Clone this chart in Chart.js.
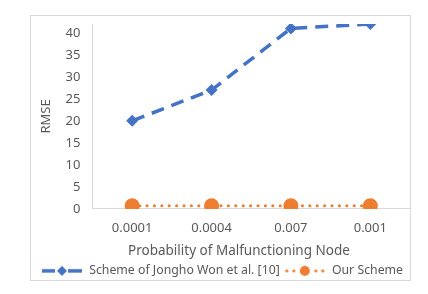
<!DOCTYPE html>
<html>
<head>
<meta charset="utf-8">
<script src="https://cdn.jsdelivr.net/npm/chart.js@4.4.1/dist/chart.umd.min.js"></script>
<style>
  body { margin: 0; background: #fff; }
  #wrap { position: relative; width: 428px; height: 294px; }
  #frame { position: absolute; left: 30px; top: 15px; width: 379px; height: 264px; border: 1px solid #d9d9d9; }
  canvas { position: absolute; left: 0; top: 0; }
</style>
</head>
<body>
<div id="wrap">
  <div id="frame"></div>
  <canvas id="rmse" width="428" height="294"></canvas>
</div>
<script>
const probabilities = ['0.0001', '0.0004', '0.007', '0.001'];
const jonghoRmse = [20, 27, 41, 42];
const ourRmse = [0.7, 0.7, 0.7, 0.7];
const yTicks = [0, 5, 10, 15, 20, 25, 30, 35, 40];

const blue = '#4472C4';
const orange = '#ED7D31';
const grey = '#595959';
const font = 'Noto Sans';

// little line+marker pictures for the legend
function swatch(color, kind) {
    const c = document.createElement('canvas');
    c.width = 42; c.height = 14;
    const g = c.getContext('2d');
    g.strokeStyle = color;
    g.fillStyle = color;
    if (kind === 'dash') {
        g.lineWidth = 3.5;
        g.beginPath(); g.moveTo(1, 7); g.lineTo(14, 7); g.stroke();
        g.beginPath(); g.moveTo(27, 7); g.lineTo(41, 7); g.stroke();
        g.beginPath();
        g.moveTo(21, 2); g.lineTo(26, 7); g.lineTo(21, 12); g.lineTo(16, 7); g.closePath();
        g.fill();
    } else {
        [3, 10, 32, 39].forEach(x => { g.beginPath(); g.arc(x, 7, 1.6, 0, Math.PI * 2); g.fill(); });
        g.beginPath(); g.arc(21, 7, 5, 0, Math.PI * 2); g.fill();
    }
    return c;
}
const swatches = [swatch(blue, 'dash'), swatch(orange, 'dot')];

new Chart(document.getElementById('rmse').getContext('2d'), {
    type: 'line',
    data: {
        labels: probabilities,
        datasets: [{
            label: 'Scheme of Jongho Won et al. [10]',
            data: jonghoRmse,
            borderColor: blue,
            backgroundColor: blue,
            borderWidth: 3.5,
            borderDash: [13, 8],
            pointStyle: 'rectRot',
            pointRadius: 6,
            pointBorderWidth: 0,
            tension: 0
        }, {
            label: 'Our Scheme',
            data: ourRmse,
            borderColor: orange,
            backgroundColor: orange,
            borderWidth: 3,
            borderDash: [0.1, 7.3],
            borderCapStyle: 'round',
            pointStyle: 'circle',
            pointRadius: 7.5,
            pointBorderWidth: 0,
            tension: 0
        }]
    },
    options: {
        responsive: false,
        animation: false,
        layout: { padding: { left: 34, right: 18, top: 24, bottom: 7 } },
        scales: {
            x: {
                offset: true,
                grid: { display: false, drawTicks: false },
                border: { color: '#d9d9d9', width: 1 },
                ticks: { color: grey, padding: 12, font: { family: font, size: 13 } },
                title: {
                    display: true,
                    // trailing spaces pull the title a little left, as in the original
                    text: 'Probability of Malfunctioning Node       ',
                    color: grey,
                    padding: { top: -5, bottom: 1 },
                    font: { family: font, size: 13.5 }
                }
            },
            y: {
                min: 0,
                max: 42,
                grid: { display: false, drawTicks: false },
                border: { color: '#d9d9d9', width: 1 },
                afterBuildTicks: (scale) => {
                    scale.ticks = yTicks.map(v => ({ value: v }));
                },
                ticks: { color: grey, padding: 12, font: { family: font, size: 13 } },
                title: {
                    display: true,
                    text: 'RMSE',
                    color: grey,
                    padding: { top: 4, bottom: 0 },
                    font: { family: font, size: 13 }
                }
            }
        },
        plugins: {
            tooltip: { enabled: false },
            legend: {
                position: 'bottom',
                labels: {
                    color: grey,
                    padding: 4,
                    usePointStyle: true,
                    pointStyleWidth: 42,
                    font: { family: font, size: 12.3 },
                    generateLabels: (chart) => chart.data.datasets.map((ds, i) => ({
                        text: ds.label,
                        pointStyle: swatches[i],
                        fontColor: grey,
                        hidden: false,
                        datasetIndex: i,
                        lineWidth: 0,
                        strokeStyle: 'transparent',
                        fillStyle: 'transparent'
                    }))
                }
            }
        }
    }
});
</script>
</body>
</html>
